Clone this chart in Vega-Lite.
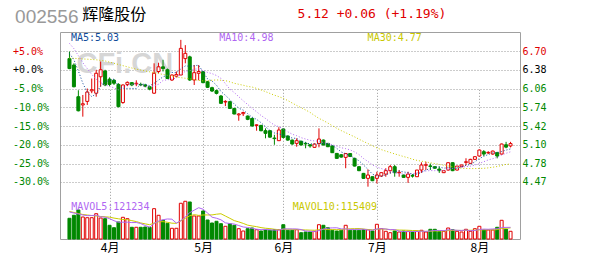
{
  "$schema": "https://vega.github.io/schema/vega-lite/v6.json",
  "width": 460,
  "height": 207,
  "autosize": {"type": "none"},
  "padding": {"left": 60, "top": 32, "right": 80, "bottom": 31},
  "background": "white",
  "config": {
    "view": {"stroke": "#a0a0a0", "strokeWidth": 1},
    "axis": {"labelFont": "DejaVu Sans Mono"}
  },
  "data": {
    "values": [
      {"k":0,"o":6.57,"h":6.69,"l":6.39,"c":6.40,"v":215300,"m5":6.66,"m10":6.83,"m30":6.58,"mv5":280800,"mv10":286000},
      {"k":1,"o":6.46,"h":6.49,"l":6.08,"c":6.09,"v":246500,"m5":6.55,"m10":6.74,"m30":6.575,"mv5":270400,"mv10":275600},
      {"k":2,"o":5.92,"h":6.03,"l":5.67,"c":5.68,"v":301600,"m5":6.36,"m10":6.62,"m30":6.57,"mv5":260000,"mv10":265200},
      {"k":3,"o":5.78,"h":5.95,"l":5.58,"c":5.80,"v":228800,"m5":6.15,"m10":6.50,"m30":6.565,"mv5":249600,"mv10":254800},
      {"k":4,"o":5.84,"h":6.06,"l":5.78,"c":6.00,"v":221500,"m5":5.994,"m10":6.40,"m30":6.56,"mv5":242700,"mv10":249600},
      {"k":5,"o":6.02,"h":6.23,"l":5.98,"c":6.04,"v":221500,"m5":5.922,"m10":6.30,"m30":6.555,"mv5":244000,"mv10":244400},
      {"k":6,"o":5.98,"h":6.38,"l":5.92,"c":6.32,"v":263100,"m5":5.968,"m10":6.22,"m30":6.55,"mv5":247300,"mv10":239200},
      {"k":7,"o":6.26,"h":6.52,"l":6.09,"c":6.38,"v":218400,"m5":6.108,"m10":6.16,"m30":6.54,"mv5":230700,"mv10":234000},
      {"k":8,"o":6.36,"h":6.38,"l":6.10,"c":6.12,"v":211100,"m5":6.172,"m10":6.12,"m30":6.53,"mv5":227100,"mv10":230900},
      {"k":9,"o":6.22,"h":6.25,"l":6.10,"c":6.13,"v":142500,"m5":6.198,"m10":6.096,"m30":6.51,"mv5":211300,"mv10":227000},
      {"k":10,"o":6.20,"h":6.22,"l":6.12,"c":6.15,"v":117500,"m5":6.22,"m10":6.071,"m30":6.49,"mv5":190500,"mv10":217300},
      {"k":11,"o":6.13,"h":6.15,"l":5.74,"c":5.75,"v":176800,"m5":6.106,"m10":6.037,"m30":6.47,"mv5":173300,"mv10":210300},
      {"k":12,"o":5.82,"h":6.13,"l":5.80,"c":6.12,"v":225700,"m5":6.054,"m10":6.081,"m30":6.45,"mv5":174700,"mv10":202700},
      {"k":13,"o":6.13,"h":6.18,"l":6.10,"c":6.165,"v":211100,"m5":6.063,"m10":6.118,"m30":6.43,"mv5":174700,"mv10":200900},
      {"k":14,"o":6.16,"h":6.17,"l":6.10,"c":6.12,"v":121700,"m5":6.061,"m10":6.13,"m30":6.41,"mv5":170600,"mv10":190900},
      {"k":15,"o":6.14,"h":6.20,"l":6.10,"c":6.15,"v":121700,"m5":6.061,"m10":6.141,"m30":6.39,"mv5":171400,"mv10":181000},
      {"k":16,"o":6.13,"h":6.16,"l":6.10,"c":6.12,"v":121700,"m5":6.135,"m10":6.121,"m30":6.375,"mv5":160400,"mv10":166800},
      {"k":17,"o":6.12,"h":6.14,"l":6.08,"c":6.10,"v":124800,"m5":6.131,"m10":6.093,"m30":6.36,"mv5":140200,"mv10":157500},
      {"k":18,"o":6.09,"h":6.10,"l":6.03,"c":6.05,"v":121700,"m5":6.108,"m10":6.086,"m30":6.345,"mv5":122300,"mv10":148500},
      {"k":19,"o":5.98,"h":6.49,"l":5.97,"c":6.32,"v":315100,"m5":6.148,"m10":6.105,"m30":6.33,"mv5":161000,"mv10":165800},
      {"k":20,"o":6.35,"h":6.50,"l":6.32,"c":6.43,"v":246500,"m5":6.204,"m10":6.133,"m30":6.315,"mv5":186000,"mv10":178700},
      {"k":21,"o":6.43,"h":6.55,"l":6.35,"c":6.40,"v":194500,"m5":6.26,"m10":6.198,"m30":6.30,"mv5":200500,"mv10":180400},
      {"k":22,"o":6.38,"h":6.40,"l":6.22,"c":6.23,"v":163300,"m5":6.286,"m10":6.209,"m30":6.285,"mv5":208200,"mv10":174200},
      {"k":23,"o":6.205,"h":6.30,"l":6.19,"c":6.29,"v":111300,"m5":6.334,"m10":6.221,"m30":6.27,"mv5":206100,"mv10":164200},
      {"k":24,"o":6.27,"h":6.35,"l":6.25,"c":6.30,"v":111300,"m5":6.33,"m10":6.239,"m30":6.255,"mv5":165400,"mv10":163200},
      {"k":25,"o":6.29,"h":6.89,"l":6.29,"c":6.745,"v":371300,"m5":6.393,"m10":6.299,"m30":6.245,"mv5":190300,"mv10":188100},
      {"k":26,"o":6.57,"h":6.80,"l":6.49,"c":6.66,"v":392100,"m5":6.445,"m10":6.353,"m30":6.235,"mv5":229800,"mv10":215200},
      {"k":27,"o":6.60,"h":6.62,"l":6.19,"c":6.205,"v":384800,"m5":6.44,"m10":6.363,"m30":6.225,"mv5":274100,"mv10":241200},
      {"k":28,"o":6.205,"h":6.46,"l":6.12,"c":6.33,"v":239200,"m5":6.448,"m10":6.391,"m30":6.21,"mv5":299700,"mv10":252900},
      {"k":29,"o":6.32,"h":6.46,"l":6.20,"c":6.35,"v":239200,"m5":6.458,"m10":6.394,"m30":6.198,"mv5":325300,"mv10":245300},
      {"k":30,"o":6.347,"h":6.36,"l":6.15,"c":6.16,"v":291200,"m5":6.341,"m10":6.367,"m30":6.19,"mv5":309300,"mv10":249800},
      {"k":31,"o":6.176,"h":6.19,"l":6.07,"c":6.08,"v":197600,"m5":6.225,"m10":6.335,"m30":6.19,"mv5":270400,"mv10":250100},
      {"k":32,"o":6.074,"h":6.09,"l":6.00,"c":6.017,"v":166400,"m5":6.187,"m10":6.314,"m30":6.201,"mv5":226700,"mv10":250400},
      {"k":33,"o":6.023,"h":6.04,"l":5.96,"c":5.977,"v":184100,"m5":6.117,"m10":6.282,"m30":6.207,"mv5":215700,"mv10":257700},
      {"k":34,"o":5.932,"h":5.95,"l":5.80,"c":5.807,"v":159100,"m5":6.008,"m10":6.233,"m30":6.201,"mv5":199700,"mv10":262500},
      {"k":35,"o":5.83,"h":5.86,"l":5.76,"c":5.84,"v":132100,"m5":5.944,"m10":6.143,"m30":6.194,"mv5":167900,"mv10":238600},
      {"k":36,"o":5.835,"h":5.85,"l":5.71,"c":5.72,"v":159100,"m5":5.872,"m10":6.049,"m30":6.174,"mv5":160200,"mv10":215300},
      {"k":37,"o":5.72,"h":5.73,"l":5.62,"c":5.625,"v":142500,"m5":5.794,"m10":5.991,"m30":6.149,"mv5":155400,"mv10":191000},
      {"k":38,"o":5.61,"h":5.64,"l":5.51,"c":5.625,"v":107100,"m5":5.723,"m10":5.92,"m30":6.132,"mv5":140000,"mv10":177800},
      {"k":39,"o":5.63,"h":5.665,"l":5.59,"c":5.65,"v":83200,"m5":5.692,"m10":5.85,"m30":6.116,"mv5":124800,"mv10":162200},
      {"k":40,"o":5.59,"h":5.60,"l":5.52,"c":5.534,"v":107100,"m5":5.631,"m10":5.788,"m30":6.096,"mv5":119800,"mv10":143800},
      {"k":41,"o":5.55,"h":5.56,"l":5.41,"c":5.42,"v":114400,"m5":5.571,"m10":5.722,"m30":6.085,"mv5":110900,"mv10":135500},
      {"k":42,"o":5.43,"h":5.45,"l":5.34,"c":5.44,"v":96700,"m5":5.534,"m10":5.664,"m30":6.062,"mv5":101700,"mv10":128500},
      {"k":43,"o":5.43,"h":5.44,"l":5.33,"c":5.34,"v":83200,"m5":5.477,"m10":5.60,"m30":6.035,"mv5":96900,"mv10":118500},
      {"k":44,"o":5.34,"h":5.38,"l":5.21,"c":5.295,"v":93600,"m5":5.406,"m10":5.549,"m30":6.007,"mv5":99000,"mv10":111900},
      {"k":45,"o":5.34,"h":5.35,"l":5.22,"c":5.23,"v":90500,"m5":5.345,"m10":5.488,"m30":5.976,"mv5":95700,"mv10":107700},
      {"k":46,"o":5.215,"h":5.27,"l":5.10,"c":5.205,"v":96700,"m5":5.302,"m10":5.436,"m30":5.946,"mv5":92100,"mv10":101500},
      {"k":47,"o":5.17,"h":5.40,"l":5.17,"c":5.352,"v":96700,"m5":5.284,"m10":5.409,"m30":5.921,"mv5":92100,"mv10":96900},
      {"k":48,"o":5.37,"h":5.38,"l":5.21,"c":5.226,"v":148700,"m5":5.262,"m10":5.369,"m30":5.893,"mv5":105200,"mv10":101100},
      {"k":49,"o":5.25,"h":5.26,"l":5.17,"c":5.18,"v":90500,"m5":5.239,"m10":5.322,"m30":5.855,"mv5":104600,"mv10":101800},
      {"k":50,"o":5.18,"h":5.19,"l":5.10,"c":5.113,"v":90500,"m5":5.215,"m10":5.28,"m30":5.812,"mv5":104600,"mv10":100200},
      {"k":51,"o":5.124,"h":5.21,"l":5.067,"c":5.17,"v":96700,"m5":5.208,"m10":5.255,"m30":5.771,"mv5":104600,"mv10":98400},
      {"k":52,"o":5.16,"h":5.17,"l":5.09,"c":5.096,"v":65500,"m5":5.157,"m10":5.221,"m30":5.733,"mv5":98400,"mv10":95300},
      {"k":53,"o":5.125,"h":5.15,"l":5.04,"c":5.115,"v":72800,"m5":5.135,"m10":5.198,"m30":5.694,"mv5":83200,"mv10":94200},
      {"k":54,"o":5.10,"h":5.11,"l":5.05,"c":5.08,"v":72800,"m5":5.115,"m10":5.177,"m30":5.653,"mv5":79700,"mv10":92100},
      {"k":55,"o":5.056,"h":5.12,"l":5.05,"c":5.113,"v":80100,"m5":5.115,"m10":5.165,"m30":5.599,"mv5":77600,"mv10":91100},
      {"k":56,"o":5.124,"h":5.38,"l":5.056,"c":5.198,"v":148700,"m5":5.12,"m10":5.164,"m30":5.55,"mv5":88000,"mv10":96300},
      {"k":57,"o":5.18,"h":5.19,"l":5.09,"c":5.096,"v":142500,"m5":5.12,"m10":5.139,"m30":5.513,"mv5":103400,"mv10":100900},
      {"k":58,"o":5.124,"h":5.13,"l":5.06,"c":5.067,"v":117500,"m5":5.111,"m10":5.123,"m30":5.471,"mv5":112300,"mv10":97800},
      {"k":59,"o":5.079,"h":5.09,"l":4.96,"c":4.965,"v":90500,"m5":5.088,"m10":5.101,"m30":5.425,"mv5":115900,"mv10":97800},
      {"k":60,"o":4.953,"h":4.96,"l":4.86,"c":4.868,"v":83200,"m5":5.039,"m10":5.077,"m30":5.381,"mv5":116500,"mv10":97000},
      {"k":61,"o":4.93,"h":4.94,"l":4.88,"c":4.89,"v":90500,"m5":4.977,"m10":5.049,"m30":5.342,"mv5":104800,"mv10":96400},
      {"k":62,"o":4.885,"h":4.96,"l":4.70,"c":4.95,"v":142500,"m5":4.948,"m10":5.034,"m30":5.306,"mv5":104800,"mv10":104100},
      {"k":63,"o":4.95,"h":4.96,"l":4.89,"c":4.90,"v":90500,"m5":4.915,"m10":5.013,"m30":5.27,"mv5":99400,"mv10":105900},
      {"k":64,"o":4.868,"h":4.88,"l":4.73,"c":4.737,"v":90500,"m5":4.869,"m10":4.978,"m30":5.235,"mv5":99400,"mv10":107600},
      {"k":65,"o":4.726,"h":4.73,"l":4.65,"c":4.658,"v":90500,"m5":4.827,"m10":4.933,"m30":5.195,"mv5":100900,"mv10":108700},
      {"k":66,"o":4.612,"h":4.62,"l":4.52,"c":4.527,"v":96700,"m5":4.754,"m10":4.866,"m30":5.156,"mv5":102100,"mv10":103500},
      {"k":67,"o":4.527,"h":4.68,"l":4.385,"c":4.584,"v":96700,"m5":4.681,"m10":4.815,"m30":5.121,"mv5":93000,"mv10":98900},
      {"k":68,"o":4.555,"h":4.56,"l":4.48,"c":4.487,"v":83200,"m5":4.599,"m10":4.757,"m30":5.083,"mv5":91500,"mv10":95500},
      {"k":69,"o":4.527,"h":4.64,"l":4.44,"c":4.584,"v":152900,"m5":4.568,"m10":4.719,"m30":5.047,"mv5":104000,"mv10":101700},
      {"k":70,"o":4.567,"h":4.63,"l":4.55,"c":4.624,"v":107100,"m5":4.561,"m10":4.694,"m30":5.017,"mv5":107300,"mv10":104100},
      {"k":71,"o":4.60,"h":4.70,"l":4.555,"c":4.658,"v":80100,"m5":4.587,"m10":4.671,"m30":4.992,"mv5":104000,"mv10":103100},
      {"k":72,"o":4.658,"h":4.755,"l":4.612,"c":4.726,"v":65500,"m5":4.616,"m10":4.649,"m30":4.968,"mv5":97800,"mv10":95400},
      {"k":73,"o":4.726,"h":4.755,"l":4.555,"c":4.624,"v":83200,"m5":4.643,"m10":4.621,"m30":4.944,"mv5":97800,"mv10":94600},
      {"k":74,"o":4.62,"h":4.67,"l":4.555,"c":4.63,"v":72800,"m5":4.652,"m10":4.61,"m30":4.922,"mv5":81700,"mv10":92900},
      {"k":75,"o":4.584,"h":4.59,"l":4.54,"c":4.544,"v":83200,"m5":4.636,"m10":4.599,"m30":4.899,"mv5":77000,"mv10":92100},
      {"k":76,"o":4.544,"h":4.64,"l":4.45,"c":4.60,"v":80100,"m5":4.625,"m10":4.606,"m30":4.879,"mv5":77000,"mv10":90500},
      {"k":77,"o":4.575,"h":4.60,"l":4.54,"c":4.565,"v":72800,"m5":4.593,"m10":4.604,"m30":4.853,"mv5":78400,"mv10":88100},
      {"k":78,"o":4.555,"h":4.67,"l":4.55,"c":4.669,"v":80100,"m5":4.602,"m10":4.622,"m30":4.834,"mv5":77800,"mv10":87800},
      {"k":79,"o":4.669,"h":4.80,"l":4.62,"c":4.755,"v":90500,"m5":4.627,"m10":4.64,"m30":4.82,"mv5":81300,"mv10":81500},
      {"k":80,"o":4.75,"h":4.81,"l":4.67,"c":4.76,"v":72800,"m5":4.67,"m10":4.653,"m30":4.808,"mv5":79200,"mv10":78100},
      {"k":81,"o":4.74,"h":4.78,"l":4.67,"c":4.73,"v":100900,"m5":4.696,"m10":4.66,"m30":4.793,"mv5":83400,"mv10":80200},
      {"k":82,"o":4.726,"h":4.73,"l":4.69,"c":4.70,"v":100900,"m5":4.723,"m10":4.658,"m30":4.78,"mv5":89000,"mv10":83700},
      {"k":83,"o":4.686,"h":4.73,"l":4.62,"c":4.658,"v":80100,"m5":4.721,"m10":4.661,"m30":4.765,"mv5":89000,"mv10":83400},
      {"k":84,"o":4.624,"h":4.66,"l":4.62,"c":4.658,"v":80100,"m5":4.701,"m10":4.664,"m30":4.751,"mv5":86900,"mv10":84100},
      {"k":85,"o":4.669,"h":4.80,"l":4.66,"c":4.794,"v":114400,"m5":4.708,"m10":4.689,"m30":4.74,"mv5":95300,"mv10":87300},
      {"k":86,"o":4.794,"h":4.80,"l":4.65,"c":4.658,"v":96700,"m5":4.694,"m10":4.695,"m30":4.722,"mv5":94400,"mv10":88900},
      {"k":87,"o":4.669,"h":4.74,"l":4.66,"c":4.737,"v":80100,"m5":4.701,"m10":4.712,"m30":4.71,"mv5":90300,"mv10":89600},
      {"k":88,"o":4.726,"h":4.76,"l":4.72,"c":4.755,"v":72800,"m5":4.72,"m10":4.721,"m30":4.70,"mv5":88800,"mv10":88900},
      {"k":89,"o":4.80,"h":4.87,"l":4.75,"c":4.81,"v":100900,"m5":4.751,"m10":4.726,"m30":4.695,"mv5":93000,"mv10":90000},
      {"k":90,"o":4.783,"h":4.86,"l":4.78,"c":4.851,"v":80100,"m5":4.762,"m10":4.735,"m30":4.694,"mv5":86100,"mv10":90700},
      {"k":91,"o":4.851,"h":4.90,"l":4.84,"c":4.897,"v":107100,"m5":4.81,"m10":4.752,"m30":4.694,"mv5":88200,"mv10":91300},
      {"k":92,"o":4.908,"h":5.02,"l":4.90,"c":5.01,"v":132100,"m5":4.865,"m10":4.783,"m30":4.696,"mv5":98600,"mv10":94400},
      {"k":93,"o":4.982,"h":5.01,"l":4.908,"c":4.942,"v":93600,"m5":4.902,"m10":4.811,"m30":4.698,"mv5":102800,"mv10":95800},
      {"k":94,"o":4.96,"h":4.99,"l":4.94,"c":4.97,"v":93600,"m5":4.934,"m10":4.842,"m30":4.706,"mv5":101300,"mv10":97100},
      {"k":95,"o":4.942,"h":5.00,"l":4.93,"c":4.993,"v":93600,"m5":4.962,"m10":4.862,"m30":4.717,"mv5":104000,"mv10":95100},
      {"k":96,"o":4.965,"h":4.98,"l":4.868,"c":4.908,"v":121700,"m5":4.965,"m10":4.887,"m30":4.729,"mv5":106900,"mv10":97600},
      {"k":97,"o":4.942,"h":5.12,"l":4.93,"c":5.113,"v":194500,"m5":4.985,"m10":4.925,"m30":4.747,"mv5":119400,"mv10":109000},
      {"k":98,"o":5.10,"h":5.15,"l":5.04,"c":5.06,"v":100900,"m5":5.009,"m10":4.955,"m30":4.766,"mv5":120800,"mv10":111800},
      {"k":99,"o":5.08,"h":5.15,"l":5.055,"c":5.12,"v":80100,"m5":5.03,"m10":4.98,"m30":4.77,"mv5":121234,"mv10":115409}
    ]
  },
  "resolve": {"scale": {"y": "independent"}, "axis": {"y": "independent"}},
  "layer": [
    {
      "data": {"values": [{}]},
      "mark": {"type": "text", "text": "CFi.CN", "align": "left", "baseline": "middle", "font": "Liberation Sans", "fontWeight": "bold", "fontSize": 29, "fill": "#d6d6d6"},
      "encoding": {
        "x": {"datum": 1.57, "type": "quantitative", "scale": {"domain": [-1, 100], "nice": false, "zero": false}},
        "y": {"datum": 6.478, "type": "quantitative", "scale": {"domain": [4.47, 6.70], "range": [149.7, 19], "zero": false, "nice": false}, "axis": null}
      }
    },
    {
      "mark": {"type": "bar", "width": 3, "strokeWidth": 1},
      "encoding": {
        "x": {"field": "k", "type": "quantitative", "scale": {"domain": [-1, 100], "nice": false, "zero": false}},
        "y": {"field": "v", "type": "quantitative", "scale": {"domain": [0, 395000], "range": [207, 169], "nice": false}, "axis": null},
        "fill": {"condition": {"test": "datum.c >= datum.o", "value": "#ffffff"}, "value": "#008800"},
        "stroke": {"condition": {"test": "datum.c >= datum.o", "value": "#e00000"}, "value": "#008800"}
      }
    },
    {
      "mark": {"type": "rule", "strokeWidth": 1},
      "encoding": {
        "x": {
          "field": "k", "type": "quantitative",
          "scale": {"domain": [-1, 100], "nice": false, "zero": false},
          "axis": {
            "orient": "bottom", "title": null, "values": [9, 30, 48, 69, 92],
            "labelExpr": "datum.value == 9 ? '4月' : datum.value == 30 ? '5月' : datum.value == 48 ? '6月' : datum.value == 69 ? '7月' : '8月'",
            "labelFont": "Noto Sans CJK SC", "labelFontSize": 12, "labelColor": "#000000", "labelPadding": 3,
            "ticks": false, "domain": false, "grid": true, "gridColor": "#999999", "gridDash": [1, 2], "labelFlush": false
          }
        },
        "y": {
          "field": "l", "type": "quantitative",
          "scale": {"domain": [4.47, 6.70], "range": [149.7, 19], "zero": false, "nice": false},
          "axis": {
            "orient": "left", "title": null, "values": [6.70, 6.38, 6.06, 5.74, 5.42, 5.10, 4.78, 4.47],
            "labelExpr": "(datum.value >= 6.38 ? '+' : '-') + format(abs(round((datum.value / 6.38 - 1) * 20) * 5), '.1f') + '%'",
            "labelAlign": "left", "labelPadding": 47.5, "labelFontSize": 10, "labelBaseline": "middle",
            "labelColor": {"condition": [{"test": "datum.value > 6.5", "value": "#e00000"}, {"test": "datum.value > 6.3", "value": "#000000"}], "value": "#008800"},
            "ticks": false, "domain": false, "grid": true, "gridColor": "#999999", "gridDash": [1, 2]
          }
        },
        "y2": {"field": "h"},
        "stroke": {"condition": {"test": "datum.c >= datum.o", "value": "#e00000"}, "value": "#008800"}
      }
    },
    {
      "mark": {"type": "bar", "width": 3, "strokeWidth": 1},
      "encoding": {
        "x": {"field": "k", "type": "quantitative", "scale": {"domain": [-1, 100], "nice": false, "zero": false}},
        "y": {
          "field": "o", "type": "quantitative",
          "scale": {"domain": [4.47, 6.70], "range": [149.7, 19], "zero": false, "nice": false},
          "axis": {
            "orient": "right", "title": null, "values": [6.70, 6.38, 6.06, 5.74, 5.42, 5.10, 4.78, 4.47],
            "format": ".2f", "labelAlign": "left", "labelPadding": 2, "labelFontSize": 10, "labelBaseline": "middle",
            "labelColor": {"condition": [{"test": "datum.value > 6.5", "value": "#e00000"}, {"test": "datum.value > 6.3", "value": "#000000"}], "value": "#008800"},
            "ticks": false, "domain": false, "grid": false
          }
        },
        "y2": {"field": "c"},
        "fill": {"condition": {"test": "datum.c >= datum.o", "value": "#ffffff"}, "value": "#008800"},
        "stroke": {"condition": {"test": "datum.c >= datum.o", "value": "#e00000"}, "value": "#008800"}
      }
    },
    {
      "mark": {"type": "line", "color": "#cccc00", "strokeWidth": 1, "strokeDash": [1, 2]},
      "encoding": {
        "x": {"field": "k", "type": "quantitative", "scale": {"domain": [-1, 100], "nice": false, "zero": false}},
        "y": {"field": "m30", "type": "quantitative", "scale": {"domain": [4.47, 6.70], "range": [149.7, 19], "zero": false, "nice": false}, "axis": null}
      }
    },
    {
      "mark": {"type": "line", "color": "#b066f2", "strokeWidth": 1, "strokeDash": [1, 2]},
      "encoding": {
        "x": {"field": "k", "type": "quantitative", "scale": {"domain": [-1, 100], "nice": false, "zero": false}},
        "y": {"field": "m10", "type": "quantitative", "scale": {"domain": [4.47, 6.70], "range": [149.7, 19], "zero": false, "nice": false}, "axis": null}
      }
    },
    {
      "mark": {"type": "line", "color": "#0f4c9a", "strokeWidth": 1, "strokeDash": [1, 2]},
      "encoding": {
        "x": {"field": "k", "type": "quantitative", "scale": {"domain": [-1, 100], "nice": false, "zero": false}},
        "y": {"field": "m5", "type": "quantitative", "scale": {"domain": [4.47, 6.70], "range": [149.7, 19], "zero": false, "nice": false}, "axis": null}
      }
    },
    {
      "mark": {"type": "line", "color": "#cccc00", "strokeWidth": 1},
      "encoding": {
        "x": {"field": "k", "type": "quantitative", "scale": {"domain": [-1, 100], "nice": false, "zero": false}},
        "y": {"field": "mv10", "type": "quantitative", "scale": {"domain": [0, 395000], "range": [207, 169], "nice": false}, "axis": null}
      }
    },
    {
      "mark": {"type": "line", "color": "#b066f2", "strokeWidth": 1},
      "encoding": {
        "x": {"field": "k", "type": "quantitative", "scale": {"domain": [-1, 100], "nice": false, "zero": false}},
        "y": {"field": "mv5", "type": "quantitative", "scale": {"domain": [0, 395000], "range": [207, 169], "nice": false}, "axis": null}
      }
    },
    {
      "data": {"values": [{}]},
      "mark": {"type": "text", "text": "MA5:5.03", "align": "left", "baseline": "middle", "font": "DejaVu Sans Mono", "fontSize": 10, "fill": "#0f4c9a"},
      "encoding": {
        "x": {"datum": 0.32, "type": "quantitative", "scale": {"domain": [-1, 100], "nice": false, "zero": false}},
        "y": {"datum": 6.917, "type": "quantitative", "scale": {"domain": [4.47, 6.70], "range": [149.7, 19], "zero": false, "nice": false}, "axis": null}
      }
    },
    {
      "data": {"values": [{}]},
      "mark": {"type": "text", "text": "MA10:4.98", "align": "left", "baseline": "middle", "font": "DejaVu Sans Mono", "fontSize": 10, "fill": "#b066f2"},
      "encoding": {
        "x": {"datum": 33.63, "type": "quantitative", "scale": {"domain": [-1, 100], "nice": false, "zero": false}},
        "y": {"datum": 6.917, "type": "quantitative", "scale": {"domain": [4.47, 6.70], "range": [149.7, 19], "zero": false, "nice": false}, "axis": null}
      }
    },
    {
      "data": {"values": [{}]},
      "mark": {"type": "text", "text": "MA30:4.77", "align": "left", "baseline": "middle", "font": "DejaVu Sans Mono", "fontSize": 10, "fill": "#c8c800"},
      "encoding": {
        "x": {"datum": 66.92, "type": "quantitative", "scale": {"domain": [-1, 100], "nice": false, "zero": false}},
        "y": {"datum": 6.917, "type": "quantitative", "scale": {"domain": [4.47, 6.70], "range": [149.7, 19], "zero": false, "nice": false}, "axis": null}
      }
    },
    {
      "data": {"values": [{}]},
      "mark": {"type": "text", "text": "MAVOL5:121234", "align": "left", "baseline": "middle", "font": "DejaVu Sans Mono", "fontSize": 10, "fill": "#b066f2"},
      "encoding": {
        "x": {"datum": 0.38, "type": "quantitative", "scale": {"domain": [-1, 100], "nice": false, "zero": false}},
        "y": {"datum": 4.043, "type": "quantitative", "scale": {"domain": [4.47, 6.70], "range": [149.7, 19], "zero": false, "nice": false}, "axis": null}
      }
    },
    {
      "data": {"values": [{}]},
      "mark": {"type": "text", "text": "MAVOL10:115409", "align": "left", "baseline": "middle", "font": "DejaVu Sans Mono", "fontSize": 10, "fill": "#c8c800"},
      "encoding": {
        "x": {"datum": 50.1, "type": "quantitative", "scale": {"domain": [-1, 100], "nice": false, "zero": false}},
        "y": {"datum": 4.043, "type": "quantitative", "scale": {"domain": [4.47, 6.70], "range": [149.7, 19], "zero": false, "nice": false}, "axis": null}
      }
    },
    {
      "data": {"values": [{}]},
      "mark": {"type": "text", "text": "002556", "align": "left", "baseline": "middle", "font": "Liberation Sans", "fontSize": 19, "fill": "#999999"},
      "encoding": {
        "x": {"datum": -12.2, "type": "quantitative", "scale": {"domain": [-1, 100], "nice": false, "zero": false}},
        "y": {"datum": 7.285, "type": "quantitative", "scale": {"domain": [4.47, 6.70], "range": [149.7, 19], "zero": false, "nice": false}, "axis": null}
      }
    },
    {
      "data": {"values": [{}]},
      "mark": {"type": "text", "text": "辉隆股份", "align": "left", "baseline": "middle", "font": "Noto Sans CJK SC", "fontSize": 16, "fill": "#000000"},
      "encoding": {
        "x": {"datum": 2.89, "type": "quantitative", "scale": {"domain": [-1, 100], "nice": false, "zero": false}},
        "y": {"datum": 7.31, "type": "quantitative", "scale": {"domain": [4.47, 6.70], "range": [149.7, 19], "zero": false, "nice": false}, "axis": null}
      }
    },
    {
      "data": {"values": [{}]},
      "mark": {"type": "text", "text": "5.12 +0.06 (+1.19%)", "align": "left", "baseline": "middle", "font": "DejaVu Sans Mono", "fontSize": 13, "fill": "#e00000"},
      "encoding": {
        "x": {"datum": 51.2, "type": "quantitative", "scale": {"domain": [-1, 100], "nice": false, "zero": false}},
        "y": {"datum": 7.323, "type": "quantitative", "scale": {"domain": [4.47, 6.70], "range": [149.7, 19], "zero": false, "nice": false}, "axis": null}
      }
    }
  ]
}
